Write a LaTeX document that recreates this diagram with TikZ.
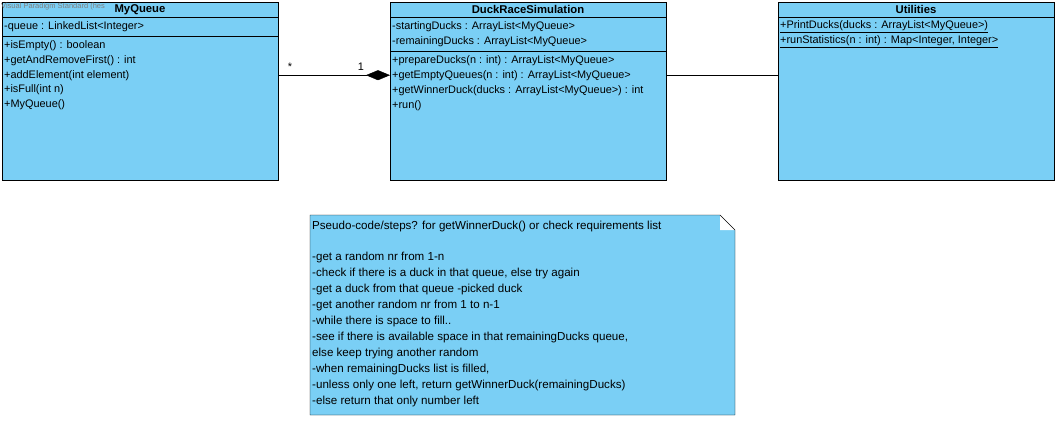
\documentclass[tikz,border=0pt]{standalone}
\usepackage{fontspec}
\setmainfont{Liberation Sans}
\usepackage{tikz}
\usetikzlibrary{positioning,arrows.meta}

\definecolor{umlblue}{RGB}{122,207,245}
\tikzset{
  classbox/.style={draw, fill=umlblue, minimum width=276pt, minimum height=178pt, inner sep=0pt, anchor=north west},
  title/.style={font=\fontsize{11.3}{13}\selectfont\bfseries, anchor=center, inner sep=0pt},
  member/.style={font=\fontsize{10.9}{13}\selectfont, anchor=west, inner sep=0pt},
  notetext/.style={font=\fontsize{11.6}{13}\selectfont, anchor=west, inner sep=0pt}
}

\begin{document}
\begin{tikzpicture}[x=1pt, y=-1pt]
\useasboundingbox (0,0) rectangle (1058,421);

% classes
\node [classbox] (mq) at (2,2) {};
\node [classbox] (drs) at (390,2) {};
\node [classbox] (ut) at (778,2) {};

% compartments
\draw (2,17) -- (278,17);
\draw (2,36) -- (278,36);
\draw (390,17) -- (666,17);
\draw (390,51) -- (666,51);
\draw (778,17) -- (1054,17);

% MyQueue
\node [font=\fontsize{7.5}{8}\selectfont, text=gray, anchor=west, inner sep=0pt] (wm) at (1,7) {Visual Paradigm Standard (hes};
\node [title] (mqname) at (140,9.5) {MyQueue};
\node [member] (mqa1) at (4,27) {-queue : LinkedList<Integer>};
\node [member] (mqm1) at (4,46) {+isEmpty() : boolean};
\node [member] (mqm2) at (4,61) {+getAndRemoveFirst() : int};
\node [member] (mqm3) at (4,76) {+addElement(int element)};
\node [member] (mqm4) at (4,90) {+isFull(int n)};
\node [member] (mqm5) at (4,105) {+MyQueue()};

% DuckRaceSimulation
\node [title] (drsname) at (528,9.5) {DuckRaceSimulation};
\node [member] (drsa1) at (392,27) {-startingDucks : ArrayList<MyQueue>};
\node [member] (drsa2) at (392,42) {-remainingDucks : ArrayList<MyQueue>};
\node [member] (drsm1) at (392,61) {+prepareDucks(n : int) : ArrayList<MyQueue>};
\node [member] (drsm2) at (392,76) {+getEmptyQueues(n : int) : ArrayList<MyQueue>};
\node [member] (drsm3) at (392,91) {+getWinnerDuck(ducks : ArrayList<MyQueue>) : int};
\node [member] (drsm4) at (392,106) {+run()};

% Utilities
\node [title] (utname) at (916,9.5) {Utilities};
\node [member] (utm1) at (780,27) {\underline{+PrintDucks(ducks : ArrayList<MyQueue>)}};
\node [member] (utm2) at (780,42) {\underline{+runStatistics(n : int) : Map<Integer, Integer>}};

% associations
\draw [-{Diamond[length=24pt, width=10pt]}] ([yshift=16pt]mq.east) -- ([yshift=16pt]drs.west);
\node [member, anchor=center] (mult1) at (290,67) {*};
\node [member, anchor=center] (mult2) at (361,67) {1};
\draw ([yshift=16pt]drs.east) -- ([yshift=16pt]ut.west);

% note
\fill [umlblue] (310,215) -- (720,215) -- (720,230) -- (735,230) -- (735,415) -- (310,415) -- cycle;
\fill [white] (720,215) -- (735,230) -- (720,230) -- cycle;
\draw (310,215) -- (720,215) -- (735,230) -- (735,415) -- (310,415) -- cycle;
\node [notetext] (n0) at (312,226) {Pseudo-code/steps? for getWinnerDuck() or check requirements list};
\node [notetext] (n1) at (312,257) {-get a random nr from 1-n};
\node [notetext] (n2) at (312,273) {-check if there is a duck in that queue, else try again};
\node [notetext] (n3) at (312,289) {-get a duck from that queue -picked duck};
\node [notetext] (n4) at (312,305) {-get another random nr from 1 to n-1};
\node [notetext] (n5) at (312,321) {-while there is space to fill..};
\node [notetext] (n6) at (312,337) {-see if there is available space in that remainingDucks queue,};
\node [notetext] (n7) at (312,353) {else keep trying another random};
\node [notetext] (n8) at (312,369) {-when remainingDucks list is filled,};
\node [notetext] (n9) at (312,385) {-unless only one left, return getWinnerDuck(remainingDucks)};
\node [notetext] (n10) at (312,401) {-else return that only number left};
\end{tikzpicture}
\end{document}
